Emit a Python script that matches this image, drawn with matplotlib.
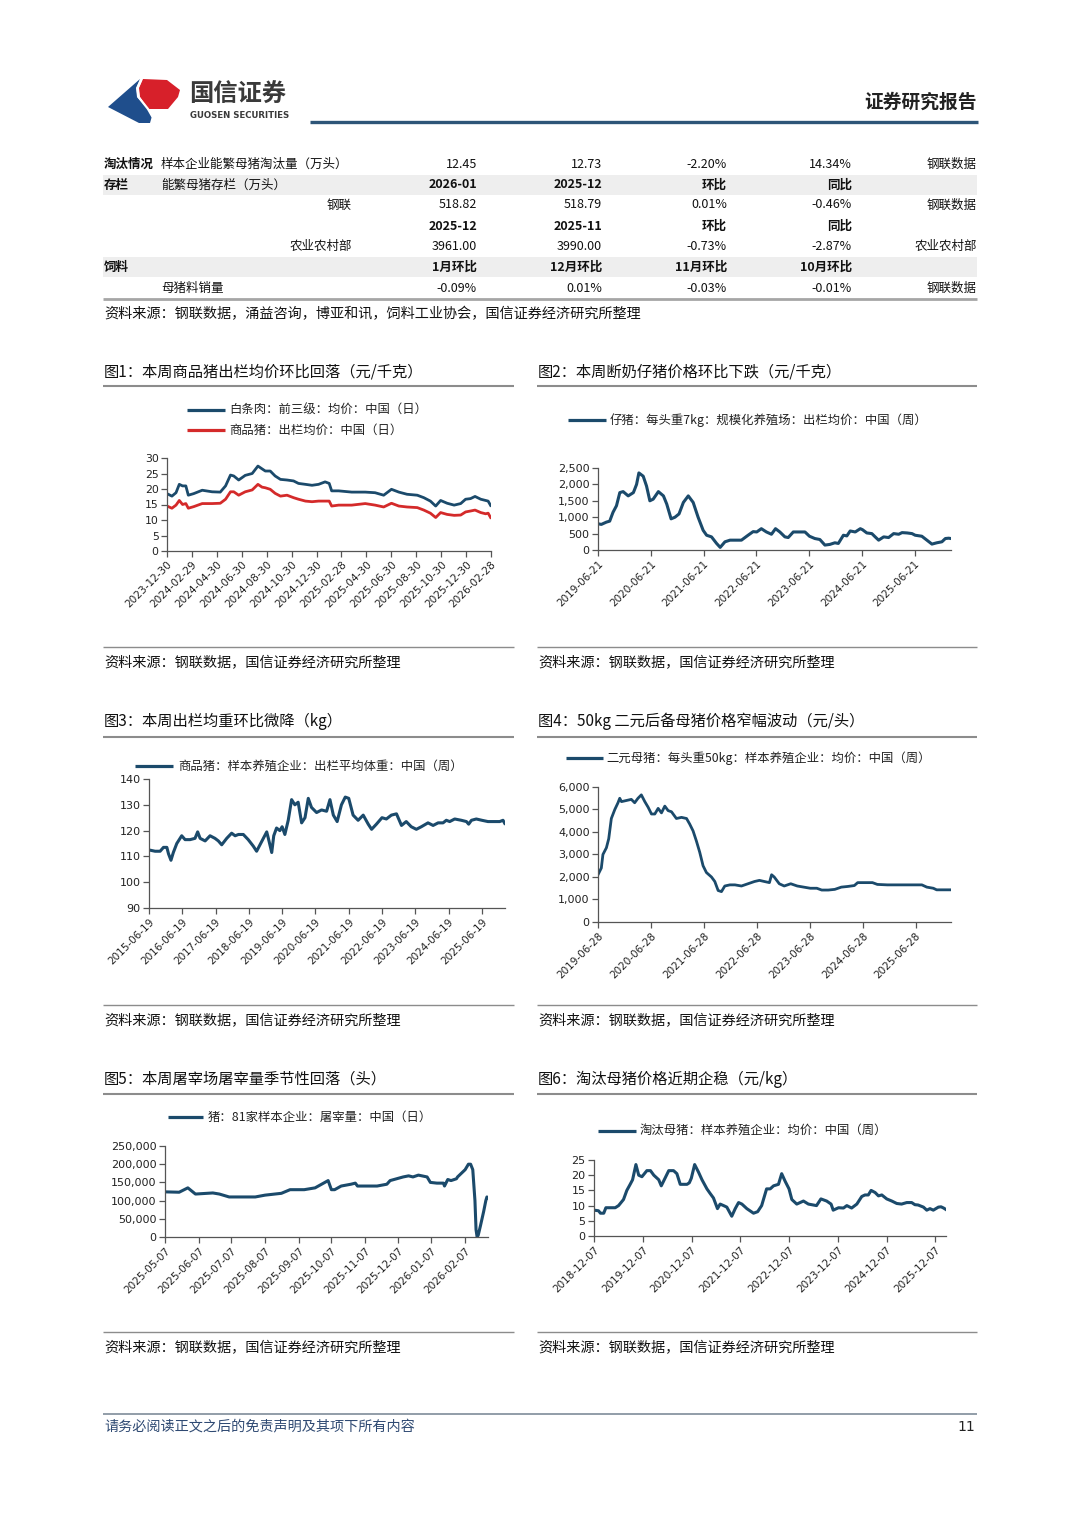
import matplotlib
matplotlib.use('Agg')
import matplotlib.pyplot as plt
import matplotlib.dates as mdates
from matplotlib.lines import Line2D
from matplotlib.patches import Rectangle, Polygon
import pandas as pd

plt.rcParams['font.family'] = ['Noto Sans CJK SC', 'DejaVu Sans']

# ---------------- table data ----------------
tbl_cat = ['淘汰情况', '存栏', '', '', '', '饲料', '']
tbl_item = ['样本企业能繁母猪淘汰量（万头）', '能繁母猪存栏（万头）', '钢联', '', '农业农村部', '', '母猪料销量']
tbl_item_align = ['left', 'left', 'right', 'left', 'right', 'left', 'left']
tbl_vals = [
    ['12.45', '12.73', '-2.20%', '14.34%', '钢联数据'],
    ['2026-01', '2025-12', '环比', '同比', ''],
    ['518.82', '518.79', '0.01%', '-0.46%', '钢联数据'],
    ['2025-12', '2025-11', '环比', '同比', ''],
    ['3961.00', '3990.00', '-0.73%', '-2.87%', '农业农村部'],
    ['1月环比', '12月环比', '11月环比', '10月环比', ''],
    ['-0.09%', '0.01%', '-0.03%', '-0.01%', '钢联数据'],
]
tbl_bold = [False, True, False, True, False, True, False]
tbl_shade = [False, True, False, False, False, True, False]

# ---------------- chart 1 ----------------
c1_dates = ['2023-12-30', '2024-01-11', '2024-01-21', '2024-01-29', '2024-02-06', '2024-02-14', '2024-02-20',
            '2024-03-04', '2024-03-25', '2024-04-18', '2024-05-08', '2024-05-21', '2024-06-02', '2024-06-10',
            '2024-06-22', '2024-07-08', '2024-07-25', '2024-08-08', '2024-08-18', '2024-08-26', '2024-09-07',
            '2024-09-19', '2024-10-02', '2024-10-18', '2024-11-03', '2024-11-15', '2024-12-02', '2024-12-18',
            '2025-01-03', '2025-01-19', '2025-01-29', '2025-02-04', '2025-02-21', '2025-03-25', '2025-04-27',
            '2025-05-21', '2025-06-11', '2025-06-30', '2025-07-18', '2025-08-07', '2025-09-01', '2025-09-17',
            '2025-10-03', '2025-10-16', '2025-10-28', '2025-11-13', '2025-11-30', '2025-12-16', '2025-12-28',
            '2026-01-09', '2026-01-20', '2026-02-03', '2026-02-15', '2026-02-21', '2026-02-27']
c1_pork = [18.5, 17.7, 18.8, 21.5, 21.0, 21.0, 18.0, 18.5, 19.6, 19.1, 19.0, 21.0, 24.5, 24.2, 22.9, 24.4,
           25.0, 27.4, 26.5, 25.8, 25.8, 24.2, 23.1, 22.9, 22.6, 21.8, 21.5, 21.2, 21.5, 22.3, 21.8, 19.4,
           19.4, 19.0, 19.0, 18.8, 18.0, 19.9, 19.0, 18.3, 18.0, 17.2, 16.1, 14.5, 16.3, 15.4, 14.8, 15.3,
           16.7, 16.9, 17.6, 16.7, 16.3, 16.1, 14.7]
c1_hog = [14.5, 13.8, 14.8, 16.3, 15.0, 15.3, 13.8, 14.3, 15.3, 15.3, 15.4, 16.7, 19.1, 19.1, 18.0, 19.1,
          19.7, 21.5, 20.6, 20.4, 19.9, 18.6, 17.7, 18.0, 17.2, 16.7, 16.1, 15.9, 16.1, 16.1, 16.1, 14.5,
          14.8, 14.8, 15.3, 14.8, 14.2, 15.4, 14.5, 14.2, 14.0, 13.2, 12.2, 10.8, 12.4, 11.8, 11.5, 11.6,
          12.6, 12.9, 13.2, 12.4, 12.0, 12.2, 10.8]
c1_xticks = ['2023-12-30', '2024-02-29', '2024-04-30', '2024-06-30', '2024-08-30', '2024-10-30', '2024-12-30',
             '2025-02-28', '2025-04-30', '2025-06-30', '2025-08-30', '2025-10-30', '2025-12-30', '2026-02-28']
c1_yticks = [0, 5, 10, 15, 20, 25, 30]

# ---------------- chart 2 ----------------
c2_dates = ['2019-06-21', '2019-07-14', '2019-08-18', '2019-09-10', '2019-10-03', '2019-10-27', '2019-11-19',
            '2019-12-12', '2020-01-16', '2020-02-21', '2020-03-14', '2020-03-30', '2020-04-29', '2020-05-22',
            '2020-06-14', '2020-07-07', '2020-08-12', '2020-09-16', '2020-10-09', '2020-11-08', '2020-12-05',
            '2021-01-02', '2021-02-01', '2021-03-07', '2021-04-10', '2021-05-14', '2021-06-18', '2021-07-12',
            '2021-08-15', '2021-09-19', '2021-10-14', '2021-11-16', '2021-12-21', '2022-03-10', '2022-04-25',
            '2022-05-30', '2022-06-24', '2022-07-26', '2022-08-30', '2022-10-04', '2022-11-01', '2022-12-01',
            '2023-01-05', '2023-01-28', '2023-03-04', '2023-04-08', '2023-05-24', '2023-06-24', '2023-07-31',
            '2023-09-04', '2023-10-09', '2023-11-12', '2023-12-17', '2024-01-10', '2024-02-14', '2024-03-09',
            '2024-04-01', '2024-05-06', '2024-06-10', '2024-06-25', '2024-07-25', '2024-08-29', '2024-09-21',
            '2024-10-15', '2024-11-19', '2024-12-23', '2025-01-27', '2025-03-03', '2025-03-26', '2025-04-30',
            '2025-06-03', '2025-06-25', '2025-08-10', '2025-09-14', '2025-10-19', '2025-11-22', '2025-12-27',
            '2026-01-20', '2026-02-12', '2026-02-27']
c2_piglet = [800, 780, 850, 880, 1150, 1350, 1750, 1780, 1650, 1750, 2000, 2350, 2250, 1950, 1500, 1550,
             1780, 1650, 1400, 950, 1000, 1100, 1450, 1650, 1450, 1000, 600, 450, 400, 200, 80, 250, 300,
             300, 450, 560, 550, 650, 550, 480, 650, 550, 400, 380, 550, 550, 550, 420, 350, 320, 150, 170,
             220, 200, 450, 430, 580, 550, 650, 620, 520, 500, 400, 300, 400, 380, 500, 480, 530, 520, 500,
             450, 420, 300, 180, 220, 250, 350, 360, 350]
c2_xticks = ['2019-06-21', '2020-06-21', '2021-06-21', '2022-06-21', '2023-06-21', '2024-06-21', '2025-06-21']
c2_yticks = [0, 500, 1000, 1500, 2000, 2500]

# ---------------- chart 3 ----------------
c3_dates = ['2015-06-19', '2015-08-25', '2015-10-19', '2015-11-25', '2016-01-01', '2016-01-19', '2016-02-15',
            '2016-03-12', '2016-04-19', '2016-06-12', '2016-07-19', '2016-09-12', '2016-11-05', '2016-12-04',
            '2016-12-31', '2017-02-24', '2017-04-19', '2017-06-12', '2017-07-19', '2017-08-25', '2017-10-19',
            '2017-12-12', '2018-01-19', '2018-02-25', '2018-04-19', '2018-06-12', '2018-08-06', '2018-09-12',
            '2018-10-19', '2018-11-25', '2019-01-01', '2019-01-19', '2019-02-25', '2019-03-19', '2019-04-19',
            '2019-05-25', '2019-06-19', '2019-07-19', '2019-08-25', '2019-10-01', '2019-11-06', '2019-12-12',
            '2020-01-19', '2020-02-25', '2020-04-01', '2020-05-06', '2020-07-01', '2020-08-25', '2020-10-19',
            '2020-11-25', '2021-01-01', '2021-02-12', '2021-03-31', '2021-05-12', '2021-06-19', '2021-08-06',
            '2021-09-30', '2021-11-25', '2022-01-19', '2022-02-25', '2022-04-19', '2022-06-19', '2022-08-06',
            '2022-09-30', '2022-11-25', '2023-01-19', '2023-03-12', '2023-05-06', '2023-07-01', '2023-08-25',
            '2023-11-06', '2024-01-01', '2024-02-25', '2024-04-19', '2024-05-25', '2024-07-01', '2024-08-25',
            '2024-11-06', '2025-01-01', '2025-01-25', '2025-02-25', '2025-04-19', '2025-06-19', '2025-08-25',
            '2025-11-06', '2026-01-01', '2026-02-06', '2026-02-25']
c3_weight = [112.5, 112.0, 112.0, 113.5, 113.5, 111.0, 108.5, 111.5, 115.0, 118.0, 116.5, 116.5, 117.0,
             119.5, 117.0, 116.0, 118.0, 117.0, 116.0, 114.5, 117.0, 119.0, 118.0, 118.5, 118.5, 116.5,
             114.0, 112.0, 114.5, 117.0, 119.5, 117.0, 111.5, 118.0, 121.0, 120.0, 121.5, 118.5, 124.0,
             132.0, 130.0, 131.0, 123.0, 125.0, 132.5, 129.0, 127.0, 128.0, 127.5, 132.0, 126.0, 123.5,
             130.0, 133.0, 132.5, 126.0, 124.0, 126.0, 122.5, 120.5, 122.5, 125.0, 124.5, 126.0, 126.5,
             122.0, 123.5, 121.5, 120.5, 121.5, 123.0, 122.0, 123.0, 123.0, 124.0, 123.5, 124.5, 124.0,
             123.5, 122.5, 124.0, 124.5, 124.0, 123.5, 123.5, 123.5, 124.0, 122.8]
c3_xticks = ['2015-06-19', '2016-06-19', '2017-06-19', '2018-06-19', '2019-06-19', '2020-06-19',
             '2021-06-19', '2022-06-19', '2023-06-19', '2024-06-19', '2025-06-19']
c3_yticks = [90, 100, 110, 120, 130, 140]

# ---------------- chart 4 ----------------
c4_dates = ['2019-06-28', '2019-07-21', '2019-08-01', '2019-08-25', '2019-09-10', '2019-09-28', '2019-10-22',
            '2019-11-13', '2019-11-25', '2019-12-07', '2020-01-10', '2020-02-13', '2020-03-07', '2020-03-30',
            '2020-04-22', '2020-05-16', '2020-06-08', '2020-07-01', '2020-07-24', '2020-08-16', '2020-09-08',
            '2020-10-01', '2020-10-24', '2020-11-16', '2020-12-20', '2021-01-24', '2021-02-28', '2021-03-22',
            '2021-04-14', '2021-05-07', '2021-05-30', '2021-06-22', '2021-07-15', '2021-08-19', '2021-09-11',
            '2021-10-04', '2021-10-27', '2021-11-19', '2021-12-24', '2022-01-28', '2022-03-14', '2022-04-28',
            '2022-06-12', '2022-07-16', '2022-08-19', '2022-09-23', '2022-10-08', '2022-10-26', '2022-11-30',
            '2023-01-03', '2023-02-17', '2023-04-03', '2023-05-18', '2023-07-02', '2023-08-16', '2023-09-19',
            '2023-11-03', '2023-12-18', '2024-02-01', '2024-03-17', '2024-05-01', '2024-05-24', '2024-07-30',
            '2024-09-03', '2024-10-07', '2024-12-15', '2025-03-15', '2025-06-13', '2025-08-10', '2025-09-13',
            '2025-10-28', '2025-11-20', '2026-02-27']
c4_gilt = [2100, 2400, 3000, 3300, 3700, 4600, 5000, 5300, 5500, 5350, 5400, 5450, 5300, 5500, 5650, 5350,
           5100, 4800, 4800, 5050, 4850, 5150, 4950, 4900, 4600, 4650, 4600, 4350, 4050, 3600, 3100, 2500,
           2200, 2000, 1800, 1400, 1350, 1600, 1650, 1650, 1600, 1700, 1800, 1850, 1800, 1750, 2100, 2000,
           1700, 1600, 1700, 1600, 1550, 1500, 1500, 1420, 1420, 1450, 1550, 1580, 1620, 1750, 1750, 1750,
           1670, 1650, 1650, 1650, 1650, 1550, 1500, 1430, 1430]
c4_xticks = ['2019-06-28', '2020-06-28', '2021-06-28', '2022-06-28', '2023-06-28', '2024-06-28', '2025-06-28']
c4_yticks = [0, 1000, 2000, 3000, 4000, 5000, 6000]

# ---------------- chart 5 ----------------
c5_dates = ['2025-05-07', '2025-05-20', '2025-05-28', '2025-06-04', '2025-06-20', '2025-06-26', '2025-07-05',
            '2025-07-29', '2025-08-07', '2025-08-22', '2025-08-30', '2025-09-12', '2025-09-22', '2025-10-01',
            '2025-10-04', '2025-10-07', '2025-10-10', '2025-10-16', '2025-10-25', '2025-10-29', '2025-10-31',
            '2025-11-18', '2025-11-27', '2025-11-30', '2025-12-06', '2025-12-12', '2025-12-17', '2025-12-21',
            '2025-12-26', '2026-01-03', '2026-01-06', '2026-01-12', '2026-01-18', '2026-01-19', '2026-01-22',
            '2026-01-25', '2026-01-30', '2026-01-31', '2026-02-07', '2026-02-10', '2026-02-12', '2026-02-14',
            '2026-02-16', '2026-02-17', '2026-02-18', '2026-02-19', '2026-02-21', '2026-02-24', '2026-02-26',
            '2026-02-27', '2026-02-28']
c5_slaughter = [124000, 123000, 135000, 118000, 121000, 118000, 110000, 110000, 115000, 120000, 130000,
                130000, 135000, 150000, 155000, 130000, 130000, 140000, 145000, 148000, 140000, 140000,
                145000, 155000, 160000, 165000, 168000, 165000, 170000, 165000, 150000, 148000, 148000,
                140000, 158000, 155000, 160000, 165000, 185000, 200000, 200000, 185000, 100000, 20000,
                0, 5000, 30000, 70000, 100000, 110000, 108000]
c5_xticks = ['2025-05-07', '2025-06-07', '2025-07-07', '2025-08-07', '2025-09-07', '2025-10-07',
             '2025-11-07', '2025-12-07', '2026-01-07', '2026-02-07']
c5_yticks = [0, 50000, 100000, 150000, 200000, 250000]

# ---------------- chart 6 ----------------
c6_dates = ['2018-12-07', '2019-01-10', '2019-01-24', '2019-02-18', '2019-03-06', '2019-04-07', '2019-05-15',
            '2019-06-09', '2019-07-16', '2019-08-10', '2019-09-04', '2019-09-22', '2019-10-17', '2019-11-07',
            '2019-12-01', '2020-01-07', '2020-02-03', '2020-02-28', '2020-04-05', '2020-04-24', '2020-05-22',
            '2020-06-19', '2020-07-25', '2020-08-19', '2020-09-13', '2020-11-03', '2020-11-20', '2020-12-05',
            '2020-12-30', '2021-01-28', '2021-02-23', '2021-04-01', '2021-04-25', '2021-05-20', '2021-06-19',
            '2021-07-09', '2021-08-04', '2021-08-28', '2021-10-04', '2021-10-30', '2021-11-24', '2021-12-19',
            '2022-01-25', '2022-03-16', '2022-04-16', '2022-05-16', '2022-06-22', '2022-07-19', '2022-08-13',
            '2022-09-19', '2022-10-13', '2022-11-08', '2022-12-07', '2022-12-28', '2023-02-03', '2023-02-28',
            '2023-03-25', '2023-05-01', '2023-07-01', '2023-08-03', '2023-09-15', '2023-10-18', '2023-11-03',
            '2023-12-13', '2024-01-19', '2024-02-13', '2024-03-20', '2024-04-28', '2024-06-04', '2024-06-28',
            '2024-07-23', '2024-08-13', '2024-09-12', '2024-10-07', '2024-11-01', '2024-12-08', '2025-01-15',
            '2025-02-21', '2025-03-29', '2025-05-07', '2025-06-13', '2025-07-07', '2025-07-31', '2025-09-09',
            '2025-10-04', '2025-10-28', '2025-11-22', '2025-12-30', '2026-01-19', '2026-02-07', '2026-02-25']
c6_cull = [8.5, 8.3, 7.5, 7.5, 9.3, 9.3, 9.3, 10.0, 12.0, 15.0, 17.0, 18.5, 23.5, 20.0, 19.5, 21.5, 21.5,
           20.0, 18.5, 16.5, 19.0, 21.5, 21.5, 20.5, 17.0, 17.0, 17.5, 19.0, 23.5, 21.0, 18.5, 15.5, 14.0,
           12.5, 9.0, 10.5, 10.0, 9.5, 6.5, 9.0, 11.0, 10.5, 9.0, 7.5, 8.0, 10.0, 15.5, 15.5, 16.5, 17.0,
           20.5, 18.0, 15.5, 12.0, 10.5, 11.0, 11.5, 10.5, 10.0, 12.2, 11.5, 10.5, 8.5, 9.3, 9.2, 10.0, 9.2,
           10.5, 13.0, 13.5, 13.5, 15.0, 14.3, 13.2, 13.5, 12.2, 11.5, 10.7, 10.5, 11.0, 11.0, 10.3, 10.2,
           9.5, 8.5, 9.0, 8.5, 9.5, 9.6, 9.2, 8.7]
c6_xticks = ['2018-12-07', '2019-12-07', '2020-12-07', '2021-12-07', '2022-12-07', '2023-12-07',
             '2024-12-07', '2025-12-07']
c6_yticks = [0, 5, 10, 15, 20, 25]

# ---------------- drawing ----------------
BLUE = '#1B4A6B'
RED = '#D42A2A'
GRAY = '#8C8C8C'
W, H = 1080, 1527
fig = plt.figure(figsize=(W / 100, H / 100), dpi=100)
fig.patch.set_facecolor('white')


def fx(x):
    return x / W


def fy(y):
    return 1 - y / H


def text(x, y, s, size=9.0, ha='left', va='center', **kw):
    fig.text(fx(x), fy(y), s, fontsize=size, ha=ha, va=va, **kw)


def hline(x0, x1, y, color=GRAY, lw=1.0):
    fig.add_artist(Line2D([fx(x0), fx(x1)], [fy(y), fy(y)], color=color, lw=lw,
                          transform=fig.transFigure, solid_capstyle='butt'))


def poly(pts, color):
    fig.add_artist(Polygon([(fx(a), fy(b)) for a, b in pts], closed=True, facecolor=color,
                           edgecolor='none', transform=fig.transFigure))


# header / logo
poly([(108, 107), (140, 79), (136, 88), (137, 97), (147, 108), (152, 116), (150, 123), (139, 123)], '#1F4E8C')
poly([(143, 79), (167, 80), (180, 90), (178, 97), (168, 109), (148, 109), (140, 97), (139, 88)], '#D7202A')
fig.add_artist(Line2D([fx(141), fx(137.5), fx(138.5), fx(148), fx(152)],
                      [fy(80), fy(88), fy(97), fy(109), fy(116)], color='white', lw=1.6,
                      transform=fig.transFigure))
text(189, 95, '国信证券', size=17.5, weight='bold', color='#3A3A3A')
text(190, 115, 'GUOSEN SECURITIES', size=6.2, weight='bold', color='#3A3A3A', family=['DejaVu Sans'])
text(977, 102, '证券研究报告', size=13.5, ha='right', weight='bold', color='#222222')
hline(310, 978, 122, color='#2D5578', lw=2.4)

# table
row_y = [164, 185, 205, 226, 246, 267, 288]
col_r = [477, 602, 727, 852, 977]
for i, y in enumerate(row_y):
    if tbl_shade[i]:
        fig.add_artist(Rectangle((fx(103), fy(y + 10)), (977 - 103) / W, 20.5 / H, facecolor='#EEEEEE',
                                 edgecolor='none', transform=fig.transFigure, zorder=0))
    if tbl_cat[i]:
        text(104, y, tbl_cat[i], size=9, weight='bold', color='#111111')
    if tbl_item[i]:
        if tbl_item_align[i] == 'left':
            text(161, y, tbl_item[i], size=9, color='#111111')
        else:
            text(352, y, tbl_item[i], size=9, ha='right', color='#111111')
    for j, v in enumerate(tbl_vals[i]):
        if v:
            text(col_r[j], y, v, size=9, ha='right', color='#111111',
                 weight='bold' if tbl_bold[i] else 'normal')
hline(103, 977, 298.5, color='#A6A6A6', lw=2.0)
text(104, 314, '资料来源：钢联数据，涌益咨询，博亚和讯，饲料工业协会，国信证券经济研究所整理', size=10.2, color='#111111')

# chart frames
sections = [
    (103, 514, 372, 386, 647, 663, '图1：本周商品猪出栏均价环比回落（元/千克）'),
    (537, 977, 372, 386, 647, 663, '图2：本周断奶仔猪价格环比下跌（元/千克）'),
    (103, 514, 721, 737, 1005, 1021, '图3：本周出栏均重环比微降（kg）'),
    (537, 977, 721, 737, 1005, 1021, '图4：50kg 二元后备母猪价格窄幅波动（元/头）'),
    (103, 514, 1079, 1094, 1332, 1348, '图5：本周屠宰场屠宰量季节性回落（头）'),
    (537, 977, 1079, 1094, 1332, 1348, '图6：淘汰母猪价格近期企稳（元/kg）'),
]
for x0, x1, ty, ly, sy, sty, title in sections:
    text(x0 + 1, ty, title, size=11, color='#111111')
    hline(x0, x1, ly, color='#8C8C8C', lw=1.5)
    hline(x0, x1, sy, color='#8C8C8C', lw=1.0)
    text(x0 + 1, sty, '资料来源：钢联数据，国信证券经济研究所整理', size=10.2, color='#111111')


def num(ds):
    return mdates.date2num(pd.to_datetime(ds))


def make_chart(l, t, r, b, xlim, xticks, ylim, yticks, ylabels, xsize=7.5, ysize=8.0):
    ax = fig.add_axes([fx(l), fy(b), (r - l) / W, (b - t) / H])
    ax.set_xlim(num(xlim[0]), num(xlim[1]))
    ax.set_ylim(*ylim)
    ax.set_xticks(num(xticks))
    ax.set_xticklabels(xticks, rotation=45, ha='right', rotation_mode='anchor', fontsize=xsize,
                       family=['DejaVu Sans'], color='#222222')
    ax.set_yticks(yticks)
    ax.set_yticklabels(ylabels, fontsize=ysize, family=['DejaVu Sans'], color='#222222')
    for s in ['top', 'right']:
        ax.spines[s].set_visible(False)
    for s in ['left', 'bottom']:
        ax.spines[s].set_color('#555555')
        ax.spines[s].set_linewidth(0.9)
    ax.tick_params(axis='both', length=4, width=0.9, color='#555555', pad=2)
    ax.set_facecolor('none')
    return ax


def fmt_thousands(v):
    return f'{v:,}'


def legend_item(x0, x1, y, color, label, tx):
    hline(x0, x1, y, color=color, lw=2.3)
    text(tx, y, label, size=8.9, color='#222222')


# chart 1
ax1 = make_chart(167, 458, 491, 551, ('2023-12-30', '2026-02-28'), c1_xticks, (0, 30), c1_yticks,
                 [str(v) for v in c1_yticks], xsize=7.6, ysize=7.8)
ax1.plot(num(c1_dates), c1_pork, color=BLUE, lw=2.0)
ax1.plot(num(c1_dates), c1_hog, color=RED, lw=2.0)
legend_item(187, 225, 410, BLUE, '白条肉：前三级：均价：中国（日）', 229)
legend_item(187, 225, 430, RED, '商品猪：出栏均价：中国（日）', 229)

# chart 2
ax2 = make_chart(598, 468, 951, 550, ('2019-06-21', '2026-02-28'), c2_xticks, (0, 2500), c2_yticks,
                 [fmt_thousands(v) for v in c2_yticks])
ax2.plot(num(c2_dates), c2_piglet, color=BLUE, lw=2.2)
legend_item(568, 606, 420, BLUE, '仔猪：每头重7kg：规模化养殖场：出栏均价：中国（周）', 610)

# chart 3
ax3 = make_chart(149, 779, 505, 908, ('2015-06-19', '2026-02-28'), c3_xticks, (90, 140), c3_yticks,
                 [str(v) for v in c3_yticks], xsize=7.5, ysize=8.0)
ax3.plot(num(c3_dates), c3_weight, color=BLUE, lw=2.2)
legend_item(135, 173, 766, BLUE, '商品猪：样本养殖企业：出栏平均体重：中国（周）', 178)

# chart 4
ax4 = make_chart(598, 787, 951, 922, ('2019-06-28', '2026-02-27'), c4_xticks, (0, 6000), c4_yticks,
                 [fmt_thousands(v) for v in c4_yticks])
ax4.plot(num(c4_dates), c4_gilt, color=BLUE, lw=2.0)
legend_item(566, 603, 758, BLUE, '二元母猪：每头重50kg：样本养殖企业：均价：中国（周）', 606)

# chart 5
ax5 = make_chart(165, 1146, 488, 1237, ('2025-05-07', '2026-02-28'), c5_xticks, (0, 250000), c5_yticks,
                 [fmt_thousands(v) for v in c5_yticks])
ax5.plot(num(c5_dates), c5_slaughter, color=BLUE, lw=2.2)
legend_item(168, 203, 1117, BLUE, '猪：81家样本企业：屠宰量：中国（日）', 208)

# chart 6
ax6 = make_chart(594, 1160, 946, 1236, ('2018-12-07', '2026-02-25'), c6_xticks, (0, 25), c6_yticks,
                 [str(v) for v in c6_yticks])
ax6.plot(num(c6_dates), c6_cull, color=BLUE, lw=2.2)
legend_item(598, 636, 1131, BLUE, '淘汰母猪：样本养殖企业：均价：中国（周）', 640)

# footer
hline(103, 977, 1414, color='#7F8C99', lw=1.2)
text(104, 1426, '请务必阅读正文之后的免责声明及其项下所有内容', size=10.2, color='#2F4A73', style='italic')
text(975, 1427, '11', size=10, ha='right', color='#222222', family=['DejaVu Sans'])

fig.savefig('out.png', dpi=100, facecolor='white')
